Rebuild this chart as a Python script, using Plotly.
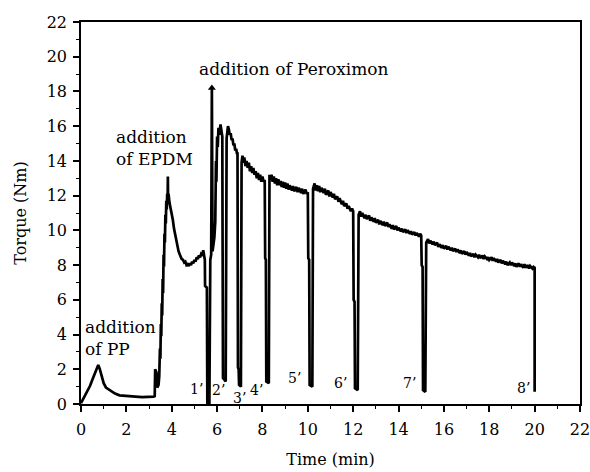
import plotly.graph_objects as go

# ---- data ----
t_pp = [0.0, 0.1, 0.2, 0.3, 0.4, 0.5, 0.6, 0.7, 0.76, 0.82, 0.9, 1.0, 1.1, 1.2, 1.35, 1.5,
        1.7, 1.9, 2.1, 2.4, 2.7, 3.0, 3.2, 3.25, 3.27, 3.33, 3.36, 3.42]
y_pp = [0.05, 0.3, 0.55, 0.85, 1.05, 1.4, 1.7, 2.0, 2.25, 2.05, 1.7, 1.2, 0.95, 0.85, 0.7, 0.6,
        0.5, 0.47, 0.45, 0.43, 0.4, 0.4, 0.42, 0.45, 2.0, 1.8, 0.95, 1.1]

t_epdm = [3.45, 3.48, 3.5, 3.52, 3.54, 3.56, 3.58, 3.6, 3.62, 3.64, 3.66, 3.68, 3.7, 3.72,
          3.74, 3.76, 3.78, 3.8, 3.82, 3.83, 3.84, 3.86, 3.9, 3.95, 4.0, 4.05, 4.1, 4.15,
          4.2, 4.25, 4.3, 4.36, 4.44, 4.5, 4.55, 4.6, 4.65, 4.7, 4.75, 4.8, 4.85, 4.9, 4.95,
          5.0, 5.05, 5.1, 5.15, 5.2, 5.25, 5.3, 5.35, 5.39, 5.43, 5.46]
y_epdm = [1.6, 3.2, 2.6, 4.6, 3.9, 5.8, 5.1, 7.2, 6.4, 8.6, 7.9, 9.8, 9.3, 10.9,
          10.4, 11.7, 11.2, 12.1, 11.8, 13.1, 11.7, 12.1, 11.6, 11.3, 10.9, 10.6, 10.1, 9.8,
          9.3, 9.1, 8.8, 8.6, 8.35, 8.3, 8.15, 8.2, 8.0, 8.05, 7.95, 8.1, 8.0, 8.2, 8.1,
          8.3, 8.2, 8.45, 8.35, 8.55, 8.45, 8.65, 8.6, 8.85, 8.5, 8.3]

t_perox = [5.47, 5.55, 5.57, 5.66, 5.7, 5.74, 5.77, 5.8, 5.84, 5.88, 5.92, 5.95, 5.97, 6.0,
           6.03, 6.06, 6.1, 6.15, 6.18, 6.21, 6.23, 6.26, 6.38, 6.42, 6.45, 6.48]
y_perox = [6.8, 6.7, 0.05, 0.05, 8.3, 8.6, 18.2, 8.8, 9.2, 9.6, 10.5, 14.0, 12.8, 15.4,
           14.8, 15.9, 15.5, 16.1, 15.8, 15.6, 15.4, 1.5, 1.3, 15.3, 15.7, 16.0]

t_cure1 = [6.52, 6.56, 6.6, 6.64, 6.68, 6.72, 6.76, 6.8, 6.84, 6.88, 6.9, 6.92, 6.95, 6.97,
           7.05, 7.08, 7.12, 7.16, 7.2, 7.25, 7.3, 7.35, 7.4, 7.45, 7.5, 7.55, 7.6, 7.65,
           7.7, 7.75, 7.8, 7.85, 7.9, 7.95, 8.0, 8.05]
y_cure1 = [15.8, 15.5, 15.6, 15.2, 15.3, 14.9, 15.0, 14.6, 14.7, 14.4, 14.5, 2.1, 2.0, 1.1,
           1.0, 13.9, 14.3, 13.9, 14.2, 13.7, 14.0, 13.6, 13.9, 13.4, 13.7, 13.3, 13.6, 13.2,
           13.4, 13.0, 13.3, 12.9, 13.2, 12.8, 13.1, 12.8]

t_cure2 = [8.1, 8.12, 8.15, 8.17, 8.28, 8.31, 8.35, 8.4, 8.45, 8.5, 8.55, 8.6, 8.65, 8.7,
           8.75, 8.8, 8.85, 8.9, 8.95, 9.0, 9.05, 9.1, 9.15, 9.2, 9.3, 9.35, 9.4, 9.5, 9.55,
           9.6, 9.7, 9.75, 9.8, 9.9, 9.95]
y_cure2 = [12.9, 8.4, 8.3, 1.3, 1.2, 13.2, 12.9, 13.2, 12.8, 13.1, 12.7, 13.0, 12.6, 12.95,
           12.6, 12.85, 12.5, 12.8, 12.45, 12.75, 12.4, 12.7, 12.35, 12.6, 12.3, 12.55, 12.25,
           12.5, 12.2, 12.45, 12.15, 12.4, 12.1, 12.35, 12.1]

t_cure3 = [10.0, 10.02, 10.06, 10.08, 10.2, 10.23, 10.3, 10.35, 10.4, 10.45, 10.5, 10.55, 10.6,
           10.7, 10.75, 10.8, 10.9, 10.95, 11.0, 11.1, 11.15, 11.2, 11.3, 11.35, 11.4, 11.5,
           11.55, 11.6, 11.7, 11.75, 11.8, 11.9, 11.95]
y_cure3 = [12.2, 8.4, 8.3, 1.1, 1.0, 12.4, 12.7, 12.3, 12.6, 12.25, 12.55, 12.2, 12.45,
           12.15, 12.4, 12.05, 12.3, 11.95, 12.2, 11.9, 12.1, 11.8, 11.95, 11.65, 11.85, 11.5,
           11.7, 11.4, 11.55, 11.25, 11.4, 11.1, 11.25]

t_cure4 = [12.0, 12.02, 12.06, 12.08, 12.2, 12.24, 12.3, 12.35, 12.4, 12.5, 12.55, 12.6, 12.7,
           12.75, 12.8, 12.9, 12.95, 13.0, 13.1, 13.15, 13.2, 13.3, 13.35, 13.4, 13.5, 13.55,
           13.6, 13.7, 13.75, 13.8, 13.9, 13.95, 14.0, 14.1, 14.15, 14.2, 14.3, 14.35, 14.4,
           14.5, 14.55, 14.6, 14.7, 14.75, 14.8, 14.9, 14.95]
y_cure4 = [11.1, 6.0, 5.9, 0.9, 0.8, 10.9, 11.1, 10.8, 11.0, 10.7, 10.9, 10.65, 10.85,
           10.55, 10.75, 10.5, 10.7, 10.45, 10.6, 10.35, 10.55, 10.3, 10.5, 10.25, 10.45, 10.2,
           10.35, 10.1, 10.3, 10.05, 10.25, 10.0, 10.15, 9.95, 10.1, 9.9, 10.05, 9.85, 10.0,
           9.8, 9.95, 9.75, 9.9, 9.7, 9.85, 9.65, 9.8]

t_cure5 = [15.0, 15.02, 15.06, 15.08, 15.18, 15.22, 15.3, 15.35, 15.4, 15.5, 15.55, 15.6, 15.7,
           15.75, 15.8, 15.9, 15.95, 16.0, 16.1, 16.15, 16.2, 16.3, 16.35, 16.4, 16.5, 16.55,
           16.6, 16.7, 16.75, 16.8, 16.9, 16.95, 17.0, 17.1, 17.15, 17.2, 17.3, 17.35, 17.4,
           17.5, 17.55, 17.6, 17.7, 17.75, 17.8, 17.9, 17.95]
y_cure5 = [9.7, 8.0, 7.9, 0.8, 0.7, 9.3, 9.5, 9.25, 9.4, 9.2, 9.35, 9.15, 9.3,
           9.05, 9.2, 9.0, 9.15, 8.95, 9.1, 8.9, 9.05, 8.85, 9.0, 8.8, 8.95, 8.75,
           8.9, 8.7, 8.85, 8.65, 8.8, 8.6, 8.75, 8.55, 8.7, 8.5, 8.65, 8.45, 8.6,
           8.45, 8.6, 8.4, 8.55, 8.35, 8.5, 8.35, 8.45]

t_cure6 = [18.0, 18.1, 18.15, 18.2, 18.3, 18.35, 18.4, 18.5, 18.55, 18.6, 18.7, 18.75, 18.8,
           18.9, 18.95, 19.0, 19.1, 19.15, 19.2, 19.3, 19.35, 19.4, 19.5, 19.55, 19.6, 19.7,
           19.75, 19.8, 19.9, 19.95, 20.0, 20.0]
y_cure6 = [8.3, 8.45, 8.25, 8.4, 8.2, 8.35, 8.15, 8.3, 8.1, 8.25, 8.05, 8.2, 8.0,
           8.15, 8.0, 8.15, 7.95, 8.1, 7.9, 8.1, 7.9, 8.05, 7.85, 8.05, 7.85, 8.0,
           7.8, 7.95, 7.8, 7.9, 7.85, 0.7]

dip_labels = ["1’", "2’", "3’", "4’", "5’", "6’", "7’", "8’"]
dip_label_t = [5.07, 6.08, 7.0, 7.75, 9.43, 11.45, 14.5, 19.5]
dip_label_y = [0.87, 0.81, 0.35, 0.81, 1.5, 1.2, 1.2, 0.92]

notes = ["addition of Peroximon", "addition<br>of EPDM", "addition<br>of PP"]
note_t = [9.38, 3.26, 0.08]
note_y = [19.3, 14.77, 3.79]

# ---- assemble ----
time = t_pp + t_epdm + t_perox + t_cure1 + t_cure2 + t_cure3 + t_cure4 + t_cure5 + t_cure6
torque = y_pp + y_epdm + y_perox + y_cure1 + y_cure2 + y_cure3 + y_cure4 + y_cure5 + y_cure6

FONT = "DejaVu Serif"
fig = go.Figure()
fig.add_trace(go.Scatter(x=time, y=torque, mode="lines",
                         line=dict(color="black", width=2.7), hoverinfo="skip",
                         showlegend=False))

# arrow head on the peroxide spike
imax = max(range(len(torque)), key=lambda i: torque[i])
fig.add_trace(go.Scatter(x=[time[imax]], y=[torque[imax]], mode="markers",
                         marker=dict(symbol="triangle-up", size=7, color="black"),
                         showlegend=False, hoverinfo="skip"))

for lab, tx, ty in zip(dip_labels, dip_label_t, dip_label_y):
    fig.add_annotation(x=tx, y=ty, text=lab, showarrow=False,
                       font=dict(family=FONT, size=14, color="#000000"))

for i, (txt, tx, ty) in enumerate(zip(notes, note_t, note_y)):
    fig.add_annotation(x=tx, y=ty, text=txt, showarrow=False,
                       xanchor="left" if i == 2 else "center", align="left",
                       font=dict(family=FONT, size=17, color="#000000"))

axis_common = dict(range=[0, 22], dtick=2, tick0=0, showgrid=False, zeroline=False,
                   showline=True, linecolor="black", linewidth=1.5, mirror=True,
                   ticks="outside", ticklen=6, tickwidth=1.5, tickcolor="black",
                   automargin=False, ticklabeloverflow="allow",
                   tickfont=dict(family=FONT, size=16, color="#000000"),
                   minor=dict(dtick=1, ticks="outside", ticklen=3, tickwidth=1.2,
                              tickcolor="black", showgrid=False))

fig.update_xaxes(**axis_common, ticklabelstandoff=4,
                 title=dict(text="Time (min)", font=dict(family=FONT, size=16, color="#000000"),
                            standoff=16))
fig.update_yaxes(**axis_common, ticklabelstandoff=3,
                 title=dict(text="Torque (Nm)", font=dict(family=FONT, size=16, color="#000000"),
                            standoff=16))

fig.update_layout(width=590, height=472, margin=dict(l=81, r=10, t=22, b=68),
                  plot_bgcolor="white", paper_bgcolor="white")

# remove the default page margin so the figure fills the window exactly
fig.write_html("out.html", config={"displayModeBar": False},
               post_script="document.body.style.margin='0';document.body.style.overflow='hidden';")
